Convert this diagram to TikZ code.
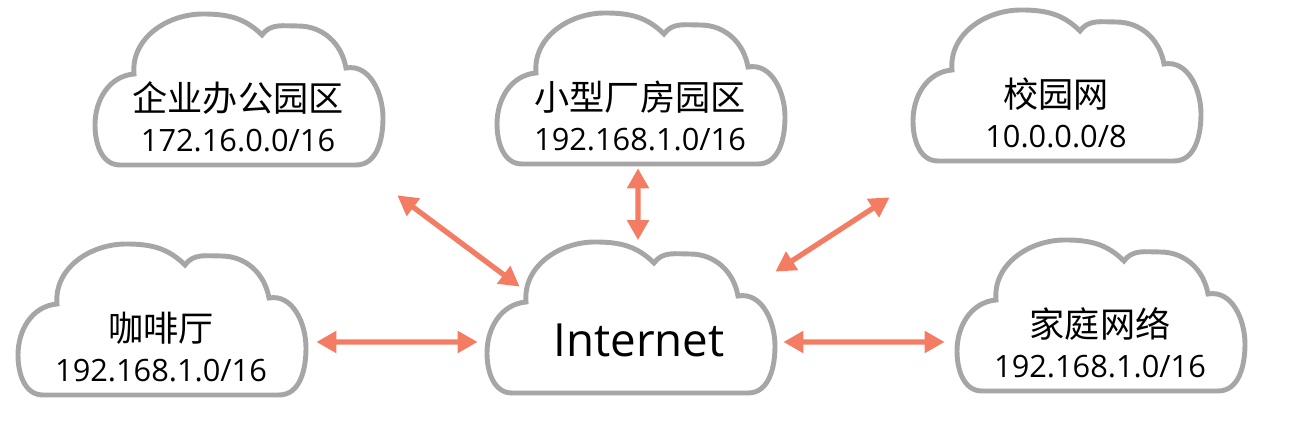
\documentclass[tikz,border=0pt]{standalone}
\usepackage{fontspec}
\setmainfont{Open Sans}
\newfontfamily\cjk{Noto Sans CJK SC}
\usetikzlibrary{arrows.meta}

\definecolor{cloudgray}{RGB}{166,166,166}
\definecolor{linkred}{RGB}{243,124,99}

\tikzset{
	cloudline/.style={draw=cloudgray, line width=2.8pt, fill=white},
	cloudbox/.style={rectangle, minimum width=5.8cm, minimum height=3.1cm, inner sep=0pt},
	cloudtext/.style={align=center, font=\fontsize{17.5}{23}\selectfont},
	link/.style={linkred, line width=3pt, {Triangle[length=0.4cm,width=0.42cm]}-{Triangle[length=0.4cm,width=0.42cm]}},
	netcloud/.pic={
		\draw[cloudline] (-2.36,-1.50) to[out=180,in=-90] (-2.86,-0.70)
			to[out=90,in=185] (-2.08,0.32) to[out=95,in=180] (-0.70,1.52)
			to[out=0,in=135] (0.48,1.10) to[out=55,in=180] (1.20,1.28)
			to[out=0,in=100] (2.16,0.44) to[out=10,in=90] (2.90,-0.56)
			to[out=-90,in=0] (2.36,-1.50) -- cycle;
	}
}

\begin{document}
\begin{tikzpicture}
		\useasboundingbox (0,0) rectangle (26,8.44);

		\pic at (4.76,6.64) {netcloud};
		\pic at (12.80,6.66) {netcloud};
		\pic at (21.12,6.72) {netcloud};
		\pic at (3.22,2.04) {netcloud};
		\pic at (12.60,2.08) {netcloud};
		\pic at (22.00,2.12) {netcloud};

		\node[cloudbox] (cloudOffice) at (4.76,6.64) {};
		\node[cloudbox] (cloudFactory) at (12.80,6.66) {};
		\node[cloudbox] (cloudCampus) at (21.12,6.72) {};
		\node[cloudbox] (cloudCafe) at (3.22,2.04) {};
		\node[cloudbox] (cloudInternet) at (12.60,2.08) {};
		\node[cloudbox] (cloudHome) at (22.00,2.12) {};

		\node[cloudtext] (textOffice) at (4.76,6.10) {{\cjk\fontsize{20}{23}\selectfont 企业办公园区}\\172.16.0.0/16};
		\node[cloudtext] (textFactory) at (12.80,6.12) {{\cjk\fontsize{20}{23}\selectfont 小型厂房园区}\\192.168.1.0/16};
		\node[cloudtext] (textCampus) at (21.12,6.18) {{\cjk\fontsize{20}{23}\selectfont 校园网}\\10.0.0.0/8};
		\node[cloudtext] (textCafe) at (3.22,1.50) {{\cjk\fontsize{20}{23}\selectfont 咖啡厅}\\192.168.1.0/16};
		\node[font=\fontsize{26}{30}\selectfont] (textInternet) at (12.78,1.64) {Internet};
		\node[cloudtext] (textHome) at (22.00,1.58) {{\cjk\fontsize{20}{23}\selectfont 家庭网络}\\192.168.1.0/16};

		\draw[link] ([shift={(0.28,-0.55)}]cloudOffice.south east) -- ([shift={(0.70,-0.93)}]cloudInternet.north west);
		\draw[link] ([shift={(-0.04,-0.03)}]cloudFactory.south) -- ([shift={(0.16,0)}]cloudInternet.north);
		\draw[link] ([shift={(-0.42,-0.67)}]cloudCampus.south west) -- ([shift={(0,-0.63)}]cloudInternet.north east);
		\draw[link] ([shift={(0.2,-0.44)}]cloudCafe.east) -- ([shift={(-0.14,-0.48)}]cloudInternet.west);
		\draw[link] ([shift={(0.16,-0.48)}]cloudInternet.east) -- ([shift={(-0.2,-0.52)}]cloudHome.west);
	\end{tikzpicture}
\end{document}
